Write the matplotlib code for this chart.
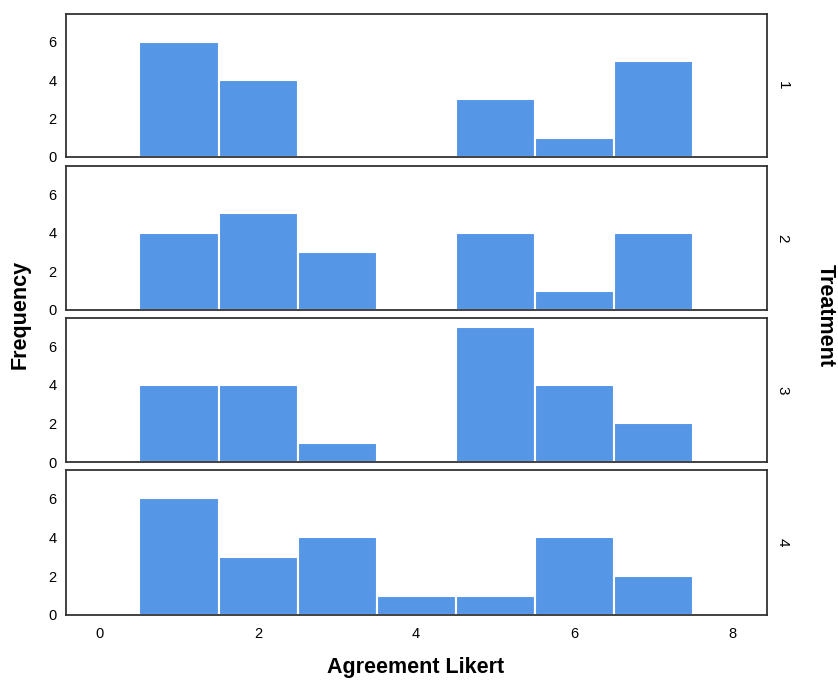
import numpy as np
import matplotlib.pyplot as plt

plt.rcParams['font.family'] = ['Liberation Sans', 'DejaVu Sans']

# agreement likert scores and counts per treatment group
scores = [1, 2, 3, 4, 5, 6, 7]
treatments = ['1', '2', '3', '4']
counts_t1 = [6, 4, 0, 0, 3, 1, 5]
counts_t2 = [4, 5, 3, 0, 4, 1, 4]
counts_t3 = [4, 4, 1, 0, 7, 4, 2]
counts_t4 = [6, 3, 4, 1, 1, 4, 2]
all_counts = [counts_t1, counts_t2, counts_t3, counts_t4]

bar_color = '#5596e6'

fig = plt.figure(figsize=(8.38, 6.83), dpi=100)

W, H = 838., 683.
left, right = 66, 767
tops = [14, 166, 318, 470]
bots = [157, 310, 462, 615]

axes = []
for i in range(4):
    ax = fig.add_axes([left/W, 1 - bots[i]/H, (right-left)/W, (bots[i]-tops[i])/H])
    counts = all_counts[i]
    ax.bar(scores, counts, width=1.0, color=bar_color, edgecolor='white', linewidth=1.5)
    ax.set_xlim(-0.43, 8.44)
    ax.set_ylim(0, 7.45)
    ax.set_yticks([0, 2, 4, 6])
    ax.tick_params(length=0, labelsize=10.5, pad=7)
    for s in ax.spines.values():
        s.set_color('#333333')
        s.set_linewidth(1.3)
    if i < 3:
        ax.set_xticks([])
    else:
        ax.set_xticks([0, 2, 4, 6, 8])
        ax.tick_params(axis='x', pad=9)
    ax.text(1.022, 0.5, treatments[i], transform=ax.transAxes, rotation=-90,
            ha='center', va='center', fontsize=11)
    axes.append(ax)

fig.text(20/W, 1 - 314/H, 'Frequency', rotation=90, ha='center', va='center',
         fontsize=15.5, fontweight='bold')
fig.text(825/W, 1 - 315/H, 'Treatment', rotation=-90, ha='center', va='center',
         fontsize=15.5, fontweight='bold')
fig.text(416/W, 1 - 667/H, 'Agreement Likert', ha='center', va='center',
         fontsize=15.5, fontweight='bold')

plt.savefig('out.png', dpi=100)
